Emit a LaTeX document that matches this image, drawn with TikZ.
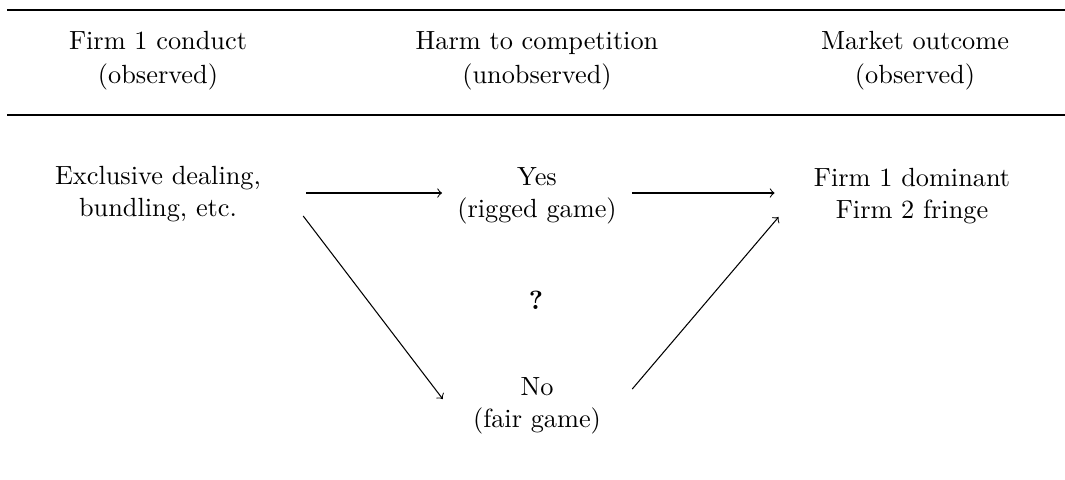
\documentclass[tikz,border=0pt]{standalone}
\usetikzlibrary{calc}
\begin{document}
\begin{tikzpicture}[x=0.3802pt,y=-0.3802pt,
  txt/.style={align=center, inner sep=3.33pt},
  arr/.style={->, line width=0.4pt},
  toprl/.style={line width=0.8pt},
  midrl/.style={line width=0.5pt}]
\useasboundingbox (0,0) rectangle (1065,479);
% rules
\coordinate (tl) at (7,10);
\coordinate (tr) at (1065,10);
\coordinate (ml) at (7,115);
\coordinate (mr) at (1065,115);
\draw[toprl] (tl) -- (tr);
\draw[midrl] (ml) -- (mr);
% header
\node[txt] (h1) at (158,61) {Firm 1 conduct\\[1pt](observed)};
\node[txt] (h2) at (537,61) {Harm to competition\\[1pt](unobserved)};
\node[txt] (h3) at (915,61) {Market outcome\\[1pt](observed)};
% body
\node[txt] (ex) at (158,194) {Exclusive dealing,\\bundling, etc.};
\node[txt] (yes) at (537,196) {Yes\\(rigged game)};
\node[txt] (firm) at (912,196) {Firm 1 dominant\\Firm 2 fringe};
\node[txt] (q) at (536,300) {\textbf{?}};
\node[txt] (no) at (537,406) {No\\(fair game)};
% arrows
\draw[arr] ($(ex.east)+(36,-1)$) -- ($(yes.west)+(-6,-3)$);
\draw[arr] ($(yes.east)+(6,-3)$) -- ($(firm.west)+(-30,-3)$);
\draw[arr] ($(ex.east)+(33,22)$) -- ($(no.west)+(-21,-7)$);
\draw[arr] ($(no.east)+(22,-17)$) -- ($(firm.west)+(-26,21)$);
\end{tikzpicture}
\end{document}
